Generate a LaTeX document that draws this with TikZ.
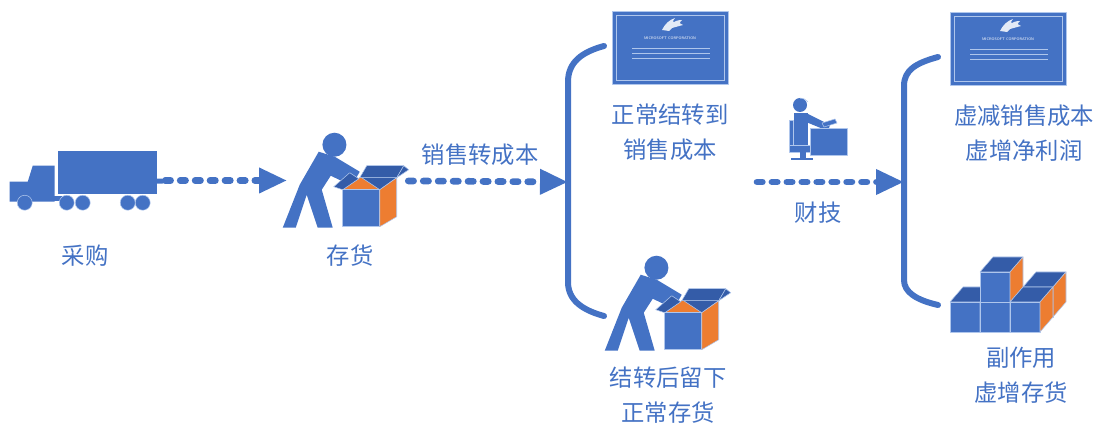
\documentclass[tikz,border=0pt]{standalone}
\usepackage{fontspec}
\usepackage{xcolor}
\usetikzlibrary{arrows.meta,fit}
\newfontfamily\cjk{Noto Sans CJK SC}
\definecolor{iconblue}{RGB}{68,114,196}
\definecolor{topblue}{RGB}{52,92,168}
\definecolor{boxorange}{RGB}{237,125,49}
\definecolor{edgecol}{RGB}{175,198,236}
\def\unitcube#1#2{%
  \filldraw[face, fill=iconblue] (#1,#2) rectangle ++(30,30);
  \filldraw[face, fill=topblue] (#1,#2) -- ++(30,0) -- ++(13,-15) -- ++(-30,0) -- cycle;
  \filldraw[face, fill=boxorange] (#1+30,#2) -- ++(13,-15) -- ++(0,30) -- ++(-13,15) -- cycle;}

\begin{document}
\begin{tikzpicture}[
  x=0.75pt, y=-0.75pt,
  lbl/.style={font=\cjk\fontsize{17.5}{26.25}\selectfont, text=iconblue, align=center},
  icon/.style={inner sep=0pt, fit={#1}},
  flow/.style={iconblue, line width=5pt, line cap=round, dash pattern=on 4pt off 7.2pt,
               -{Triangle[length=21pt,width=18pt]}},
  brace/.style={iconblue, line width=4.5pt, line cap=round},
  face/.style={draw=edgecol, line width=0.4pt, line join=round},
  truck/.pic={
    \fill[iconblue] (48,1) rectangle (147,44);
    \fill[iconblue, rounded corners=2pt] (144,29) rectangle (155,34);
    \fill[iconblue] (0,32) -- (18,32) -- (23,16) -- (45,16) -- (45,52) -- (0,52) -- cycle;
    \fill[iconblue] (44,46) rectangle (52,51);
    \foreach \x in {15,57,73,118,133}
      \filldraw[face, fill=iconblue] (\x,53) circle (7.5);
  },
  mover/.pic={
    \fill[iconblue] (52.7,12) circle (12);
    \fill[iconblue] (37,19) -- (53,24) -- (78,39) -- (70,53) -- (49,43) -- (40,57)
      -- (51,95) -- (36,95) -- (25,62) -- (14,95) -- (1,95) -- (18,52) -- cycle;
    \filldraw[face, fill=boxorange] (61,57) -- (78,45) -- (115,45) -- (98,57) -- cycle;
    \filldraw[face, fill=topblue] (80,45) -- (115,45) -- (98,57) -- cycle;
    \filldraw[face, fill=topblue] (78,45) -- (85,33) -- (122,33) -- (115,45) -- cycle;
    \filldraw[face, fill=topblue] (115,45) -- (122,33) -- (127,37) -- cycle;
    \filldraw[face, fill=topblue] (61,57) -- (52,54) -- (68,40) -- (77,46) -- cycle;
    \filldraw[face, fill=iconblue] (61,57) rectangle (98,94);
    \filldraw[face, fill=boxorange] (98,57) -- (115,45) -- (115,84) -- (98,94) -- cycle;
  },
  diploma/.pic={
    \filldraw[face, fill=iconblue] (0,0) rectangle (116,73);
    \draw[edgecol, line width=0.5pt] (4,4) rectangle (112,69);
    \fill[white!85!iconblue] (50,19) .. controls (53,13) and (57,9) .. (63,7)
      .. controls (60,11) .. (66,12) .. controls (62,15) .. (57,20) -- cycle;
    \fill[white!85!iconblue] (58,14) .. controls (62,10) and (66,9) .. (70,9)
      .. controls (67,12) .. (71,14) .. controls (66,16) .. (60,17) -- cycle;
    \node[text=white, font=\sffamily\fontsize{2.8}{3}\selectfont, inner sep=0pt] (-corp) at (58,27) {MICROSOFT CORPORATION};
    \foreach \y in {37,42,47}
      \draw[edgecol, line width=0.5pt] (20,\y) -- (98,\y);
  },
  desk/.pic={
    \fill[iconblue] (15,10) circle (7);
    \draw[edgecol, line width=0.5pt] (15,3.2) .. controls (19,3.5) .. (23,7);
    \filldraw[face, fill=iconblue] (4,25) rectangle (8,53);
    \filldraw[face, fill=iconblue] (4,50) rectangle (27,57);
    \fill[iconblue] (15,57) rectangle (21,64);
    \fill[iconblue] (6,63) rectangle (28,65.5);
    \fill[iconblue] (9,18) rectangle (23,50);
    \fill[iconblue] (21,18) -- (45,30) -- (43,36) -- (21,27) -- cycle;
    \filldraw[face, fill=iconblue] (25,33) rectangle (62,60);
    \filldraw[face, fill=iconblue] (37,28) -- (50,24) -- (52,28) -- (39,32) -- cycle;
  },
  cubes/.pic={
    \unitcube{73}{29}
    \unitcube{0}{44}
    \unitcube{30}{44}
    \unitcube{30}{14}
    \unitcube{60}{44}
  },
]
\useasboundingbox (0,0) rectangle (1102,423);

\node[icon={(10,150) (165,211)}] (truck) {};
\node[icon={(282,133) (408,228)}] (stock) {};
\node[icon={(604,256) (731,351)}] (remainbox) {};
\pic at (truck.north west) {truck};
\pic at (stock.north west) {mover};
\pic at (remainbox.north west) {mover};
\pic (dipA) at (612,11) {diploma};
\pic (dipB) at (950,12) {diploma};
\pic at (785,95) {desk};
\pic at (950,258) {cubes};

\node[lbl] (buy) at (85,256) {采购};
\node[lbl] (stocklbl) at (350,256) {存货};
\node[lbl] (cost) at (480,155) {销售转成本};
\node[lbl] (normal) at (670,132) {正常结转到\\销售成本};
\node[lbl] (remain) at (668,395) {结转后留下\\正常存货};
\node[lbl] (trick) at (818,213) {财技};
\node[lbl] (fake) at (1024,133) {虚减销售成本\\虚增净利润};
\node[lbl] (side) at (1021,375) {副作用\\虚增存货};

\coordinate (split1) at (568,182);
\coordinate (split2) at (904,182);
\coordinate (tech) at (757,182);

\draw[brace] (604,46) .. controls (582,52) and (568,62) .. (568,82) -- (568,282)
  .. controls (568,300) and (582,310) .. (604,316);
\draw[brace] (938,57) .. controls (916,63) and (904,70) .. (904,86) -- (904,280)
  .. controls (904,292) and (916,300) .. (938,305);

\draw[flow, shorten >=-4pt] (truck) -- (stock);
\draw[flow] (stock) -- (split1);
\draw[flow] (tech) -- (split2);
\end{tikzpicture}
\end{document}
